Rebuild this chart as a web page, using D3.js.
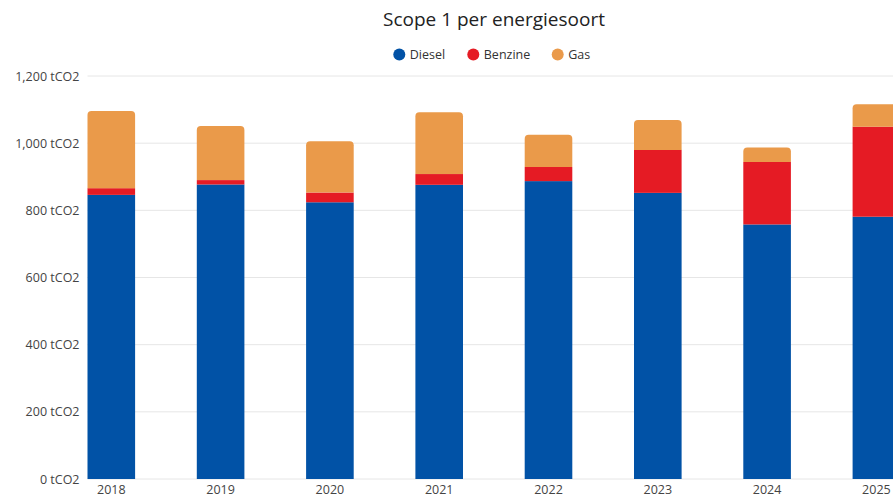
<!DOCTYPE html>
<html><head><meta charset="utf-8">
<script src="https://cdn.jsdelivr.net/npm/d3@7"></script>
<style>body{margin:0;background:#fff;}svg{display:block;font-family:"Open Sans",sans-serif;}</style>
</head><body>
<svg id="c" width="893" height="497"></svg>
<script>
const years = ["2018","2019","2020","2021","2022","2023","2024","2025"];
const diesel = [846, 877, 824, 876, 887, 852, 758, 781];
const benzine = [20, 13, 29, 32, 42, 128, 186, 268];
const gas = [230, 161, 153, 184, 96, 89, 43, 67];
const seriesNames = ["Diesel","Benzine","Gas"];
const colors = ["#0152a6","#e51b24","#ea9a4a"];
const yTicks = [0,200,400,600,800,1000,1200];

(function(){
const svg = d3.select("#c");
const rows = years.map((y,i)=>({year:y, Diesel:diesel[i], Benzine:benzine[i], Gas:gas[i]}));
const stack = d3.stack().keys(seriesNames)(rows);

const plotLeft = 87.5, plotBottom = 479, plotTop = 76;
const step = 109.3, bw = 47.6;
const x = d3.scaleBand().domain(years).range([plotLeft, plotLeft + 7*step + bw]).paddingInner(1 - bw/step).paddingOuter(0);
const y = d3.scaleLinear().domain([0,1200]).range([plotBottom, plotTop]);

svg.append("g").selectAll("line").data(yTicks).join("line")
  .attr("x1", plotLeft).attr("x2", 893).attr("y1", d=>y(d)).attr("y2", d=>y(d))
  .attr("stroke", "#e6e6e6").attr("stroke-width", 1);

const yAxis = d3.axisLeft(y).tickValues(yTicks).tickSize(0).tickPadding(8)
  .tickFormat(d=>d3.format(",")(d)+" tCO2");
const ga = svg.append("g").attr("transform",`translate(${plotLeft},0)`).call(yAxis);
ga.select(".domain").remove();
ga.selectAll("text").attr("fill","#444").attr("font-size",12.5).attr("font-family","Open Sans, sans-serif");

const xAxis = d3.axisBottom(x).tickSize(0).tickPadding(6);
const gx = svg.append("g").attr("transform",`translate(0,${plotBottom})`).call(xAxis);
gx.select(".domain").remove();
gx.selectAll("text").attr("fill","#444").attr("font-size",12.5).attr("font-family","Open Sans, sans-serif");

const r = 4;
function topRounded(x0,y0,w,h,rr){
  rr = Math.min(rr,h,w/2);
  return `M${x0},${y0+h}V${y0+rr}Q${x0},${y0} ${x0+rr},${y0}H${x0+w-rr}Q${x0+w},${y0} ${x0+w},${y0+rr}V${y0+h}Z`;
}
stack.forEach((s,si)=>{
  const g = svg.append("g");
  s.forEach(d=>{
    const x0 = x(d.data.year), y0 = y(d[1]), h = y(d[0]) - y(d[1]);
    if (si === seriesNames.length-1) {
      g.append("path").attr("d", topRounded(x0,y0,x.bandwidth(),h,r)).attr("fill", colors[si]);
    } else {
      g.append("rect").attr("x",x0).attr("y",y0).attr("width",x.bandwidth()).attr("height",h).attr("fill",colors[si]);
    }
  });
});

svg.append("text").attr("x",494).attr("y",26).attr("text-anchor","middle")
  .attr("font-size",19).attr("fill","#222").text("Scope 1 per energiesoort");

const legX = [399.3, 473.3, 557.7];
const lg = svg.append("g");
seriesNames.forEach((n,i)=>{
  lg.append("circle").attr("cx",legX[i]).attr("cy",54.5).attr("r",6).attr("fill",colors[i]);
  lg.append("text").attr("x",legX[i]+10.5).attr("y",59).attr("font-size",12.5).attr("fill","#333").text(n);
});
})();
</script>
</body></html>
